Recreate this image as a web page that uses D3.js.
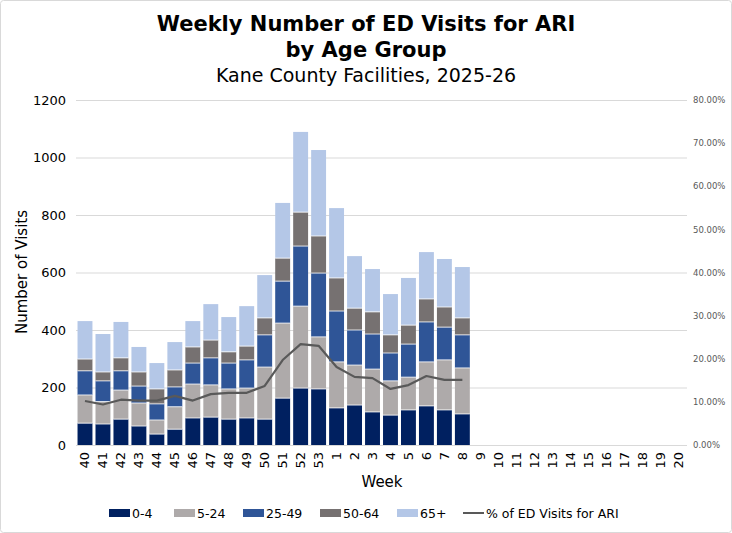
<!DOCTYPE html>
<html><head><meta charset="utf-8">
<script src="https://cdn.jsdelivr.net/npm/d3@7"></script>
<style>body{margin:0;background:#fff}svg{display:block}</style>
</head><body>
<svg id="c" width="732" height="533"></svg>
<script>
const weeks = ["40","41","42","43","44","45","46","47","48","49","50","51","52","53","1","2","3","4","5","6","7","8","9","10","11","12","13","14","15","16","17","18","19","20"];
const age0_4   = [76,73,90,66,38,55,94,97,90,94,90,163,198,195,129,139,115,104,122,136,122,108];
const age5_24  = [98,78,101,80,49,78,118,112,105,104,181,261,285,181,160,139,149,119,114,153,174,160];
const age25_49 = [84,72,67,59,56,69,73,94,90,98,112,146,209,222,177,122,122,97,115,139,114,115];
const age50_64 = [41,31,45,49,52,59,56,62,39,48,59,80,118,129,115,76,77,63,66,80,70,59];
const age65p   = [132,132,125,87,90,97,90,125,121,139,149,192,279,299,243,181,149,142,164,163,167,177];
const pctARI   = [10.2,9.4,10.5,10.3,10.3,11.4,10.3,11.8,12.1,12.1,13.7,19.7,23.4,23.0,18.1,15.8,15.5,13.0,13.9,16.0,15.1,15.1];
const leftTicks = [0,200,400,600,800,1000,1200];
const rightTicks = [0,10,20,30,40,50,60,70,80];
const seriesNames = ["0-4","5-24","25-49","50-64","65+"];
const seriesColors = ["#002060","#AEAAAA","#2F5597","#767171","#B4C7E7"];
const lineName = "% of ED Visits for ARI";
const lineColor = "#595959";

const font = "DejaVu Sans, Verdana, sans-serif";
const svg = d3.select("#c");
svg.append("rect").attr("x",0.5).attr("y",0.5).attr("width",731).attr("height",532)
  .attr("rx",3).attr("fill","#fff").attr("stroke","#d9d9d9");

const L = 76, R = 687, T = 100, B = 445;
const x = d3.scaleBand().domain(weeks).range([L,R]).paddingInner(0.17).paddingOuter(0.085);
const y = d3.scaleLinear().domain([0,1200]).range([B,T]);
const y2 = d3.scaleLinear().domain([0,80]).range([B,T]);

// title
svg.append("text").attr("x",366).attr("y",31).attr("text-anchor","middle")
  .attr("font-family",font).attr("font-weight","bold").attr("font-size",21).text("Weekly Number of ED Visits for ARI");
svg.append("text").attr("x",366).attr("y",57).attr("text-anchor","middle")
  .attr("font-family",font).attr("font-weight","bold").attr("font-size",21).text("by Age Group");
svg.append("text").attr("x",366).attr("y",82).attr("text-anchor","middle")
  .attr("font-family",font).attr("font-size",19).text("Kane County Facilities, 2025-26");

// gridlines
svg.append("g").selectAll("line").data(leftTicks.slice(1)).join("line")
  .attr("x1",L).attr("x2",R).attr("y1",d=>y(d)+0.5).attr("y2",d=>y(d)+0.5)
  .attr("stroke","#d9d9d9").attr("stroke-width",1);

// left axis
const ga = svg.append("g").attr("transform",`translate(${L-6},0)`)
  .call(d3.axisLeft(y).tickValues(leftTicks).tickSize(0).tickPadding(4).tickFormat(d3.format("d")));
ga.select(".domain").remove();
ga.selectAll("text").attr("font-family",font).attr("font-size",13).attr("fill","#000");

// right axis
const gr = svg.append("g").attr("transform",`translate(${R+1},0)`)
  .call(d3.axisRight(y2).tickValues(rightTicks).tickSize(0).tickPadding(5).tickFormat(d=>d.toFixed(2)+"%"));
gr.select(".domain").remove();
gr.selectAll("text").attr("font-family",font).attr("font-size",8.5).attr("fill","#595959");

// stacked bars
const rows = age0_4.map((v,i)=>({week:weeks[i],"0-4":v,"5-24":age5_24[i],"25-49":age25_49[i],"50-64":age50_64[i],"65+":age65p[i]}));
const stack = d3.stack().keys(seriesNames)(rows);
svg.append("g").selectAll("g").data(stack).join("g")
  .attr("fill",(d,i)=>seriesColors[i])
  .selectAll("rect").data(d=>d).join("rect")
  .attr("x",d=>x(d.data.week)).attr("width",x.bandwidth())
  .attr("y",d=>y(d[1])).attr("height",d=>y(d[0])-y(d[1]));
// white separators
svg.append("g").selectAll("g").data(stack.slice(0,4)).join("g")
  .selectAll("line").data(d=>d).join("line")
  .attr("x1",d=>x(d.data.week)).attr("x2",d=>x(d.data.week)+x.bandwidth())
  .attr("y1",d=>y(d[1])).attr("y2",d=>y(d[1]))
  .attr("stroke","#fff").attr("stroke-width",0.8);

// x axis line
svg.append("line").attr("x1",L).attr("x2",R).attr("y1",B+0.5).attr("y2",B+0.5).attr("stroke","#d9d9d9");

// x tick labels
svg.append("g").selectAll("text").data(weeks).join("text")
  .attr("transform",d=>`translate(${x(d)+x.bandwidth()/2+4.5},452) rotate(-90)`)
  .attr("text-anchor","end").attr("font-family",font).attr("font-size",13).text(d=>d);

// line
const line = d3.line().x((d,i)=>x(weeks[i])+x.bandwidth()/2).y(d=>y2(d));
svg.append("path").datum(pctARI).attr("d",line).attr("fill","none")
  .attr("stroke",lineColor).attr("stroke-width",2.2).attr("stroke-linejoin","round");

// axis titles
svg.append("text").attr("x",382).attr("y",487).attr("text-anchor","middle")
  .attr("font-family",font).attr("font-size",15).text("Week");
svg.append("text").attr("transform","translate(27,272) rotate(-90)").attr("text-anchor","middle")
  .attr("font-family",font).attr("font-size",15).text("Number of Visits");

// legend
const legX = [109,174,243,320,397];
const lg = svg.append("g");
seriesNames.forEach((n,i)=>{
  lg.append("rect").attr("x",legX[i]).attr("y",509).attr("width",21).attr("height",8).attr("fill",seriesColors[i]);
  lg.append("text").attr("x",legX[i]+23).attr("y",518).attr("font-family",font).attr("font-size",12.5).text(n);
});
lg.append("line").attr("x1",463).attr("x2",484).attr("y1",513).attr("y2",513).attr("stroke",lineColor).attr("stroke-width",2);
lg.append("text").attr("x",486).attr("y",518).attr("font-family",font).attr("font-size",12.5).text(lineName);
</script>
</body></html>
